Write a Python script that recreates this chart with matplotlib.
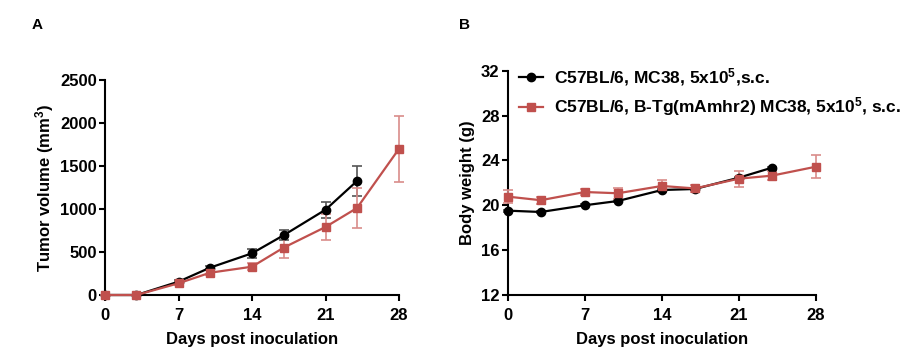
import matplotlib
matplotlib.use("Agg")
import matplotlib.pyplot as plt
from matplotlib.lines import Line2D

plt.rcParams['font.family'] = ['Liberation Sans', 'DejaVu Sans']
plt.rcParams['font.weight'] = 'bold'
plt.rcParams['mathtext.fontset'] = 'custom'
plt.rcParams['mathtext.rm'] = 'Liberation Sans:bold'
plt.rcParams['mathtext.it'] = 'Liberation Sans:bold'
plt.rcParams['mathtext.bf'] = 'Liberation Sans:bold'
plt.rcParams['mathtext.default'] = 'regular'

days = [0, 3, 7, 10, 14, 17, 21, 24, 28]
days_wt = [0, 3, 7, 10, 14, 17, 21, 24]

# Panel A: tumor volume
vol_wt = [0, 0, 155, 318, 485, 694, 992, 1326]
vol_wt_err = [0, 0, 15, 20, 55, 60, 95, 175]
vol_tg = [0, 0, 136, 259, 329, 550, 791, 1012, 1701]
vol_tg_err = [0, 0, 20, 30, 40, 120, 150, 230, 385]

# Panel B: body weight
bw_wt = [19.52, 19.4, 20.0, 20.38, 21.36, 21.45, 22.46, 23.35]
bw_wt_err = [0.1, 0.1, 0.1, 0.1, 0.1, 0.1, 0.1, 0.1]
bw_tg = [20.77, 20.45, 21.18, 21.07, 21.72, 21.5, 22.37, 22.64, 23.44]
bw_tg_err = [0.6, 0.3, 0.3, 0.5, 0.55, 0.3, 0.7, 0.4, 1.05]

label_wt = r"C57BL/6, MC38, 5x10$^{5}$,s.c."
label_tg = r"C57BL/6, B-Tg(mAmhr2) MC38, 5x10$^{5}$, s.c."

RED = '#C0504D'
RED_ERR = '#D98C8A'
BLACK = '#000000'
GRAY_ERR = '#555555'

fig = plt.figure(figsize=(9.02, 3.55), dpi=100)
axA = fig.add_axes([0.1164, 0.169, 0.326, 0.6056])
axB = fig.add_axes([0.5629, 0.169, 0.3418, 0.632])

def style(ax):
    for s in ['top', 'right']:
        ax.spines[s].set_visible(False)
    for s in ['left', 'bottom']:
        ax.spines[s].set_linewidth(1.5)
    ax.tick_params(direction='out', length=4, width=1.5, labelsize=12)
    ax.tick_params(axis='x', pad=5)
    ax.tick_params(axis='y', pad=2)
    for lab in ax.get_xticklabels() + ax.get_yticklabels():
        lab.set_fontweight('bold')

def plot_series(ax, x, y, e, color, ecolor, marker, ms):
    ax.errorbar(x, y, yerr=e, color=color, ecolor=ecolor, elinewidth=1.2,
                capsize=3.5, capthick=1.2, marker=marker, markersize=ms,
                linewidth=1.6, clip_on=False, zorder=3)

plot_series(axA, days_wt, vol_wt, vol_wt_err, BLACK, GRAY_ERR, 'o', 6)
plot_series(axA, days, vol_tg, vol_tg_err, RED, RED_ERR, 's', 6)
axA.set_xlim(0, 28)
axA.set_ylim(0, 2500)
axA.set_xticks([0, 7, 14, 21, 28])
axA.set_yticks([0, 500, 1000, 1500, 2000, 2500])
axA.set_xlabel("Days post inoculation", fontsize=12, fontweight='bold', labelpad=7)
axA.set_ylabel("Tumor volume (mm$^{3}$)", fontsize=12, fontweight='bold', labelpad=3)
style(axA)

plot_series(axB, days_wt, bw_wt, bw_wt_err, BLACK, GRAY_ERR, 'o', 6)
plot_series(axB, days, bw_tg, bw_tg_err, RED, RED_ERR, 's', 6)
axB.set_xlim(0, 28)
axB.set_ylim(12, 32)
axB.set_xticks([0, 7, 14, 21, 28])
axB.set_yticks([12, 16, 20, 24, 28, 32])
axB.set_xlabel("Days post inoculation", fontsize=12, fontweight='bold', labelpad=7)
axB.set_ylabel("Body weight (g)", fontsize=12, fontweight='bold', labelpad=4)
style(axB)

handles = [Line2D([], [], color=BLACK, marker='o', markersize=6, linewidth=1.6),
           Line2D([], [], color=RED, marker='s', markersize=6, linewidth=1.6)]
leg = axB.legend(handles, [label_wt, label_tg], loc='upper left',
                 bbox_to_anchor=(0.035, 1.02), frameon=False,
                 fontsize=12.5, handlelength=1.4, handletextpad=0.65, labelspacing=0.42,
                 borderaxespad=0, borderpad=0)
for t in leg.get_texts():
    t.set_fontweight('bold')

fig.text(37 / 902, 1 - 25 / 355, "A", fontsize=11, fontweight='bold', va='center', ha='center')
fig.text(465 / 902, 1 - 25 / 355, "B", fontsize=11, fontweight='bold', va='center', ha='center')

fig.savefig("out.png", dpi=100)
